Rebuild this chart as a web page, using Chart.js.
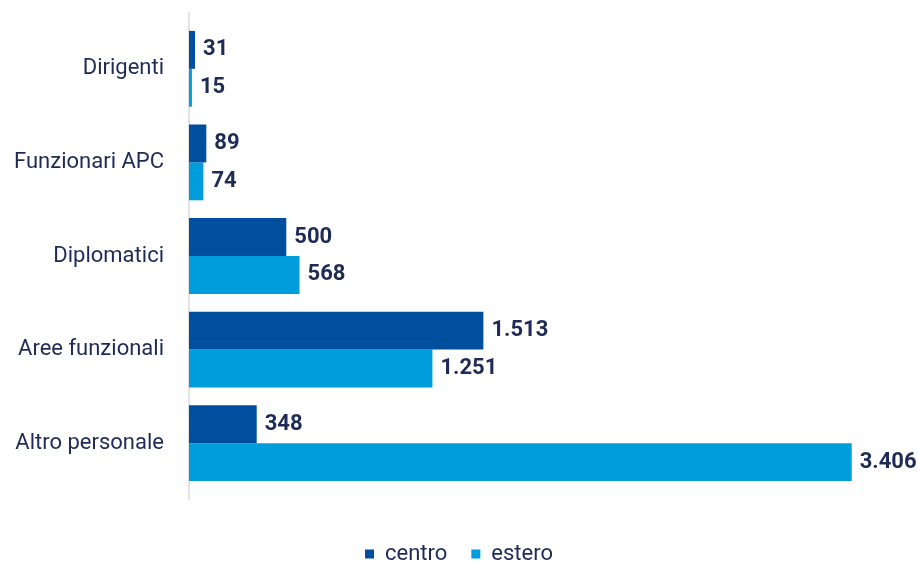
<!DOCTYPE html>
<html>
<head>
<meta charset="utf-8">
<script src="https://cdn.jsdelivr.net/npm/chart.js@4/dist/chart.umd.min.js"></script>
<style>
  html, body { margin: 0; padding: 0; background: #fff; }
  #wrap { width: 918px; height: 562px; position: relative; }
</style>
</head>
<body>
<div id="wrap"><canvas id="chart"></canvas></div>
<script>
const categories = ['Dirigenti', 'Funzionari APC', 'Diplomatici', 'Aree funzionali', 'Altro personale'];
const centro = [31, 89, 500, 1513, 348];
const estero = [15, 74, 568, 1251, 3406];

const textColor = '#1f2b57';
const fontFamily = 'Roboto, "Open Sans", sans-serif';

const fmt = v => v.toLocaleString('it-IT');

// draws the value at the end of each bar
const valueLabels = {
    id: 'valueLabels',
    afterDatasetsDraw(chart) {
        const ctx = chart.ctx;
        ctx.save();
        ctx.font = 'bold 22px ' + fontFamily;
        ctx.fillStyle = textColor;
        ctx.textBaseline = 'middle';
        ctx.textAlign = 'left';
        chart.data.datasets.forEach((ds, i) => {
            chart.getDatasetMeta(i).data.forEach((bar, j) => {
                ctx.fillText(fmt(ds.data[j]), bar.x + 8, bar.y);
            });
        });
        ctx.restore();
    }
};

// category axis line, a bit longer than the plot area
const axisLine = {
    id: 'axisLine',
    beforeDatasetsDraw(chart) {
        const { ctx, chartArea } = chart;
        ctx.save();
        ctx.strokeStyle = '#dadada';
        ctx.lineWidth = 1.5;
        ctx.beginPath();
        ctx.moveTo(chartArea.left, chartArea.top - 10);
        ctx.lineTo(chartArea.left, chartArea.bottom + 10);
        ctx.stroke();
        ctx.restore();
    }
};

// taller legend box, legend pushed down and a bit to the right
const legendPlace = {
    id: 'legendPlace',
    afterInit(chart) {
        const lg = chart.legend;
        const fit = lg.fit;
        lg.fit = function () { fit.call(this); this.height = 72; };
    },
    afterLayout(chart) {
        const lg = chart.legend;
        lg.top = chart.chartArea.bottom + 29;
        lg.left += 24;
        lg.right += 24;
    }
};

new Chart(document.getElementById('chart'), {
    type: 'bar',
    data: {
        labels: categories,
        datasets: [
            { label: 'centro', data: centro, backgroundColor: '#004f9f' },
            { label: 'estero', data: estero, backgroundColor: '#009ddc' }
        ]
    },
    options: {
        indexAxis: 'y',
        responsive: true,
        maintainAspectRatio: false,
        animation: false,
        datasets: {
            bar: { categoryPercentage: 0.81, barPercentage: 1.0 }
        },
        layout: { padding: { top: 22, right: 48, left: 0, bottom: 0 } },
        plugins: {
            legend: {
                position: 'bottom',
                labels: {
                    boxWidth: 9,
                    boxHeight: 9,
                    padding: 24,
                    color: textColor,
                    font: { family: fontFamily, size: 22 }
                }
            },
            tooltip: { enabled: false }
        },
        scales: {
            x: {
                display: false,
                min: 0,
                max: 3500
            },
            y: {
                grid: { display: false },
                border: { display: false },
                ticks: {
                    color: textColor,
                    padding: 17,
                    font: { family: fontFamily, size: 22 }
                },
                afterFit(scale) {
                    scale.width = 189;
                    scale.paddingTop = 0;
                    scale.paddingBottom = 0;
                }
            }
        }
    },
    plugins: [valueLabels, axisLine, legendPlace]
});
</script>
</body>
</html>
